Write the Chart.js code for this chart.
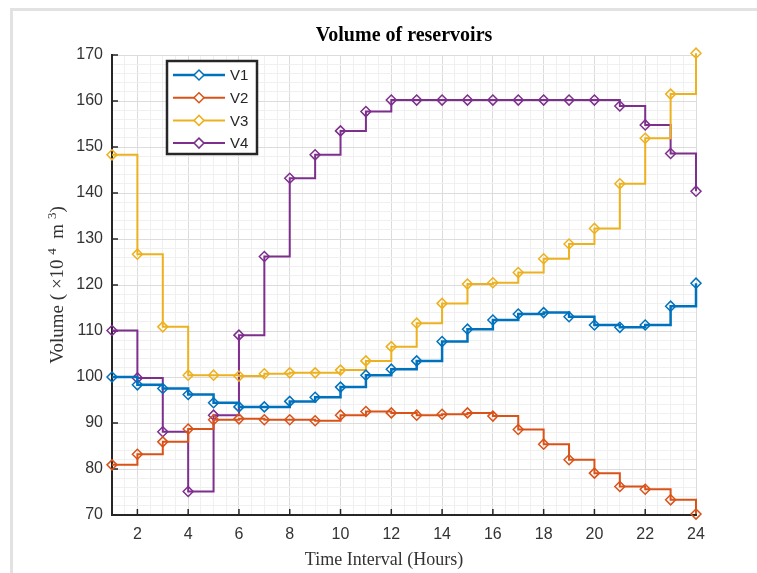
<!DOCTYPE html>
<html>
<head>
<meta charset="utf-8">
<script src="https://cdn.jsdelivr.net/npm/chart.js@4.4.1/dist/chart.umd.min.js"></script>
<style>
  body { margin: 0; background: #fff; }
  #frame {
    position: absolute; left: 10px; top: 8px; width: 760px; height: 580px;
    border-left: 3px solid #e2e2e2; border-top: 3px solid #e2e2e2;
  }
  #wrap { position: absolute; left: 0; top: 0; width: 757px; height: 573px; }
</style>
</head>
<body>
<div id="frame"></div>
<div id="wrap"><canvas id="reservoirChart" width="757" height="573"></canvas></div>
<script>
const hours = [1, 2, 3, 4, 5, 6, 7, 8, 9, 10, 11, 12, 13, 14, 15, 16, 17, 18, 19, 20, 21, 22, 23, 24];
const seriesNames = ["V1", "V2", "V3", "V4"];

const v1 = [100, 98.3, 97.5, 96.2, 94.4, 93.5, 93.5, 94.7, 95.6, 97.8, 100.4, 101.7,
  103.5, 107.7, 110.4, 112.4, 113.7, 114.0, 113.1, 111.3, 110.8, 111.3, 115.4, 120.4];
const v2 = [80.9, 83.2, 85.9, 88.7, 90.7, 90.9, 90.7, 90.7, 90.5, 91.7, 92.5, 92.2,
  91.7, 91.9, 92.2, 91.5, 88.6, 85.4, 82.0, 79.1, 76.2, 75.6, 73.3, 70.2];
const v3 = [148.3, 126.7, 110.9, 100.4, 100.4, 100.2, 100.7, 100.9, 100.9, 101.5, 103.5, 106.6,
  111.7, 116.0, 120.2, 120.5, 122.7, 125.7, 128.9, 132.3, 142.0, 151.9, 161.5, 170.4];
const v4 = [110.1, 99.8, 88.1, 75.1, 91.7, 109.1, 126.2, 143.2, 148.3, 153.5, 157.7, 160.2,
  160.2, 160.2, 160.2, 160.2, 160.2, 160.2, 160.2, 160.2, 158.9, 154.8, 148.6, 140.4];

const colors = ["#0072BD", "#D95319", "#EDB120", "#7E2F8E"];
const widths = [2.5, 2, 2, 2];

const toPoints = (values) => values.map((v, i) => ({ x: hours[i], y: v }));

const datasets = [v1, v2, v3, v4].map((values, i) => ({
  label: seriesNames[i],
  data: toPoints(values),
  borderColor: colors[i],
  backgroundColor: colors[i],
  borderWidth: widths[i],
  stepped: true,
  pointStyle: "rectRot",
  pointRadius: 5,
  pointBorderWidth: 1.5,
  pointBorderColor: colors[i],
  pointBackgroundColor: "rgba(255,255,255,0)",
  clip: false,
}));

const gridMajor = "#dcdcdc";
const gridMinor = "#f0f0f0";
const serif = "'Liberation Serif', serif";

// y label with real superscripts: Volume ( x10^4 m^3)
const yLabelParts = [
  { text: "Volume ( \u00d710 ", sup: false },
  { text: "4", sup: true },
  { text: "  m ", sup: false },
  { text: "3", sup: true },
  { text: ")", sup: false },
];

const drawYLabel = (ctx, cx, cy) => {
  ctx.save();
  ctx.translate(cx, cy);
  ctx.rotate(-Math.PI / 2);
  ctx.fillStyle = "#333";
  ctx.textBaseline = "alphabetic";
  const fontFor = (p) => (p.sup ? `13px ${serif}` : `19px ${serif}`);
  let total = 0;
  yLabelParts.forEach((p) => {
    ctx.font = fontFor(p);
    total += ctx.measureText(p.text).width;
  });
  let x = -total / 2;
  yLabelParts.forEach((p) => {
    ctx.font = fontFor(p);
    ctx.fillText(p.text, x, p.sup ? -1 : 6);
    x += ctx.measureText(p.text).width;
  });
  ctx.restore();
};

// inward tick marks, axis labels and the legend box inside the axes, like the matlab figure
const matlabExtras = {
  id: "matlabExtras",
  beforeDatasetsDraw(chart) {
    const { ctx, chartArea, scales } = chart;
    ctx.save();
    ctx.strokeStyle = "#262626";
    ctx.lineWidth = 1.5;
    scales.y.ticks.forEach((t) => {
      if (t.value % 10 !== 0) return;
      const y = scales.y.getPixelForValue(t.value);
      ctx.beginPath();
      ctx.moveTo(chartArea.left, y);
      ctx.lineTo(chartArea.left + 6, y);
      ctx.stroke();
    });
    scales.x.ticks.forEach((t) => {
      if (t.value % 2 !== 0) return;
      const x = scales.x.getPixelForValue(t.value);
      ctx.beginPath();
      ctx.moveTo(x, chartArea.bottom);
      ctx.lineTo(x, chartArea.bottom - 6);
      ctx.stroke();
    });
    ctx.restore();
  },
  afterDraw(chart) {
    const { ctx, chartArea } = chart;

    ctx.save();
    ctx.fillStyle = "#333";
    ctx.font = `18px ${serif}`;
    ctx.textAlign = "center";
    ctx.textBaseline = "middle";
    ctx.fillText("Time Interval (Hours)", 384, 560);
    ctx.restore();

    drawYLabel(ctx, 57, 285);

    const left = chartArea.left + 55;
    const top = chartArea.top + 6;
    const w = 90;
    const h = 93;
    ctx.save();
    ctx.fillStyle = "#fff";
    ctx.fillRect(left, top, w, h);
    ctx.strokeStyle = "#262626";
    ctx.lineWidth = 2.5;
    ctx.strokeRect(left, top, w, h);
    ctx.font = "15px 'Liberation Sans', Arial, sans-serif";
    ctx.textBaseline = "middle";
    chart.data.datasets.forEach((ds, i) => {
      const y = top + 14 + i * 22.7;
      ctx.strokeStyle = ds.borderColor;
      ctx.lineWidth = ds.borderWidth;
      ctx.beginPath();
      ctx.moveTo(left + 6, y);
      ctx.lineTo(left + 58, y);
      ctx.stroke();
      ctx.lineWidth = 1.5;
      ctx.beginPath();
      ctx.moveTo(left + 32, y - 5);
      ctx.lineTo(left + 37, y);
      ctx.lineTo(left + 32, y + 5);
      ctx.lineTo(left + 27, y);
      ctx.closePath();
      ctx.fillStyle = "#fff";
      ctx.fill();
      ctx.stroke();
      ctx.fillStyle = "#262626";
      ctx.fillText(ds.label, left + 63, y + 1);
    });
    ctx.restore();
  },
};

const config = {
  type: "line",
  data: { datasets: datasets },
  options: {
    responsive: false,
    animation: false,
    layout: { padding: { left: 0, right: 61, top: 0, bottom: 0 } },
    plugins: {
      legend: { display: false },
      tooltip: { enabled: false },
      title: {
        display: true,
        text: "Volume of reservoirs",
        fullSize: false,
        color: "#000",
        font: { family: serif, size: 20, weight: "bold" },
        padding: { top: 24, bottom: 7 },
      },
    },
    scales: {
      x: {
        type: "linear",
        min: 1,
        max: 24,
        afterFit: (scale) => { scale.height = 58; },
        border: { display: true, color: "#262626", width: 2 },
        grid: {
          drawTicks: false,
          color: (ctx) => (ctx.tick && ctx.tick.value % 2 === 0 ? gridMajor : gridMinor),
        },
        ticks: {
          stepSize: 0.5,
          autoSkip: false,
          maxRotation: 0,
          padding: 10,
          color: "#333",
          font: { family: "'Liberation Sans', Arial, sans-serif", size: 16 },
          callback: (v) => (v % 2 === 0 ? v : ""),
        },
      },
      y: {
        min: 70,
        max: 170,
        afterFit: (scale) => { scale.width = 112; },
        border: { display: true, color: "#262626", width: 2 },
        grid: {
          drawTicks: false,
          color: (ctx) => (ctx.tick && ctx.tick.value % 10 === 0 ? gridMajor : gridMinor),
        },
        ticks: {
          stepSize: 2,
          autoSkip: false,
          padding: 9,
          color: "#333",
          font: { family: "'Liberation Sans', Arial, sans-serif", size: 16 },
          callback: (v) => (v % 10 === 0 ? v : ""),
        },
      },
    },
  },
  plugins: [matlabExtras],
};

new Chart(document.getElementById("reservoirChart"), config);
</script>
</body>
</html>
